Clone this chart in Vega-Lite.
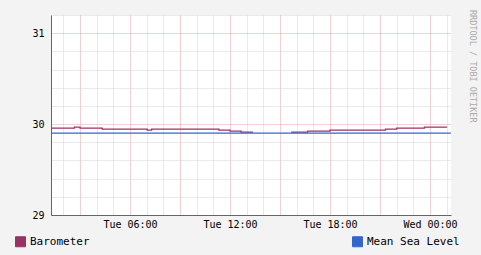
{
  "$schema": "https://vega.github.io/schema/vega-lite/v6.json",
  "width": 400,
  "height": 200,
  "autosize": {"type": "none"},
  "padding": {"left": 51, "top": 15, "right": 30, "bottom": 40},
  "background": "#f3f3f3",
  "title": {
    "text": "RRDTOOL / TOBI OETIKER",
    "orient": "right",
    "anchor": "start",
    "font": "DejaVu Sans Mono",
    "fontSize": 8.5,
    "fontWeight": "normal",
    "color": "#aaaaaa",
    "offset": 8
  },
  "config": {
    "view": {"fill": "white", "stroke": null},
    "font": "DejaVu Sans Mono"
  },
  "data": {
    "values": [
      {"t": "2024-01-02T01:16:00Z", "v": 29.956, "series": "Barometer", "seg": 1},
      {"t": "2024-01-02T02:40:00Z", "v": 29.967, "series": "Barometer", "seg": 1},
      {"t": "2024-01-02T03:00:00Z", "v": 29.956, "series": "Barometer", "seg": 1},
      {"t": "2024-01-02T04:20:00Z", "v": 29.945, "series": "Barometer", "seg": 1},
      {"t": "2024-01-02T07:02:00Z", "v": 29.934, "series": "Barometer", "seg": 1},
      {"t": "2024-01-02T07:18:00Z", "v": 29.945, "series": "Barometer", "seg": 1},
      {"t": "2024-01-02T11:20:00Z", "v": 29.934, "series": "Barometer", "seg": 1},
      {"t": "2024-01-02T12:00:00Z", "v": 29.923, "series": "Barometer", "seg": 1},
      {"t": "2024-01-02T12:40:00Z", "v": 29.912, "series": "Barometer", "seg": 1},
      {"t": "2024-01-02T13:23:00Z", "v": 29.912, "series": "Barometer", "seg": 1},
      {"t": "2024-01-02T15:40:00Z", "v": 29.912, "series": "Barometer", "seg": 2},
      {"t": "2024-01-02T16:40:00Z", "v": 29.923, "series": "Barometer", "seg": 2},
      {"t": "2024-01-02T18:00:00Z", "v": 29.934, "series": "Barometer", "seg": 2},
      {"t": "2024-01-02T21:20:00Z", "v": 29.945, "series": "Barometer", "seg": 2},
      {"t": "2024-01-02T22:00:00Z", "v": 29.956, "series": "Barometer", "seg": 2},
      {"t": "2024-01-02T23:40:00Z", "v": 29.967, "series": "Barometer", "seg": 2},
      {"t": "2024-01-03T01:02:00Z", "v": 29.967, "series": "Barometer", "seg": 2},
      {"t": "2024-01-02T01:16:00Z", "v": 29.9, "series": "Mean Sea Level", "seg": 3},
      {"t": "2024-01-03T01:15:00Z", "v": 29.9, "series": "Mean Sea Level", "seg": 3}
    ]
  },
  "mark": {"type": "line", "interpolate": "step-after", "strokeWidth": 1.3},
  "encoding": {
    "x": {
      "field": "t",
      "type": "temporal",
      "scale": {"type": "utc", "domain": [1704158136000, 1704244536000]},
      "axis": {
        "title": null,
        "values": [1704160800000, 1704164400000, 1704168000000, 1704171600000, 1704175200000, 1704178800000, 1704182400000, 1704186000000, 1704189600000, 1704193200000, 1704196800000, 1704200400000, 1704204000000, 1704207600000, 1704211200000, 1704214800000, 1704218400000, 1704222000000, 1704225600000, 1704229200000, 1704232800000, 1704236400000, 1704240000000, 1704243600000],
        "labelExpr": "utchours(datum.value) % 6 === 0 ? utcFormat(datum.value, '%a %H:%M') : ''",
        "labelOverlap": false,
        "labelFont": "DejaVu Sans Mono",
        "labelFontSize": 10,
        "labelColor": "black",
        "labelPadding": 4,
        "ticks": false,
        "domainColor": "#666666",
        "grid": true,
        "gridDash": [1, 1],
        "gridColor": {"condition": {"test": "utchours(datum.value) % 3 === 0", "value": "#eaa0a0"}, "value": "#d4d4d4"}
      }
    },
    "y": {
      "field": "v",
      "type": "quantitative",
      "scale": {"domain": [29, 31.2], "zero": false, "nice": false},
      "axis": {
        "title": null,
        "values": [29, 29.2, 29.4, 29.6, 29.8, 30, 30.2, 30.4, 30.6, 30.8, 31, 31.2],
        "labelExpr": "datum.value % 1 === 0 ? format(datum.value, 'd') : ''",
        "labelOverlap": false,
        "labelFont": "DejaVu Sans Mono",
        "labelFontSize": 10,
        "labelColor": "black",
        "labelPadding": 7,
        "ticks": false,
        "domainColor": "#666666",
        "grid": true,
        "gridDash": [1, 1],
        "gridColor": {"condition": {"test": "datum.value % 1 === 0", "value": "#eaa0a0"}, "value": "#d4d4d4"}
      }
    },
    "color": {
      "field": "series",
      "type": "nominal",
      "scale": {"domain": ["Barometer", "Mean Sea Level"], "range": ["#993366", "#3366CC"]},
      "legend": {
        "title": null,
        "orient": "none",
        "legendX": -36,
        "legendY": 221,
        "direction": "horizontal",
        "symbolType": "square",
        "labelFont": "DejaVu Sans Mono",
        "labelFontSize": 11,
        "labelColor": "black",
        "columnPadding": 260,
        "encode": {
          "symbols": {
            "update": {
              "fill": {"scale": "color", "field": "value"},
              "stroke": {"value": "black"},
              "strokeWidth": {"value": 1},
              "opacity": {"value": 1}
            }
          }
        }
      }
    },
    "detail": {"field": "seg", "type": "nominal"}
  }
}
